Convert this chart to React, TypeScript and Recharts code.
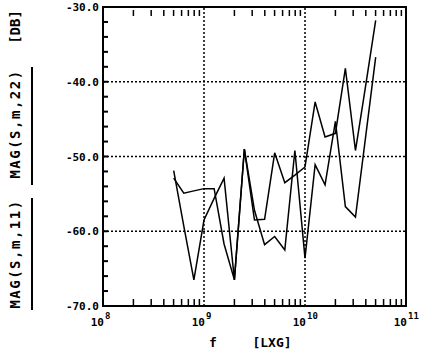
import { LineChart, Line, XAxis, YAxis, ReferenceLine, ReferenceArea } from "recharts";

// frequency points, Hz (0.1 decade steps)
const freqHz = [
  5.01e8, 6.31e8, 7.94e8, 1.0e9, 1.26e9, 1.58e9, 2.0e9, 2.51e9, 3.16e9, 3.98e9, 5.01e9,
  6.31e9, 7.94e9, 1.0e10, 1.26e10, 1.58e10, 2.0e10, 2.51e10, 3.16e10, 3.98e10, 5.01e10,
];
const magS11 = [
  -52.9, -54.9, -54.6, -54.3, -54.3, -61.7, -66.5, -49.0, -58.5, -58.4, -49.5,
  -53.5, -52.5, -51.4, -42.7, -47.4, -46.9, -38.2, -49.2, -40.6, -31.8,
];
const magS22 = [
  -51.9, -59.3, -66.5, -58.5, -55.6, -52.9, -66.5, -49.0, -57.2, -61.8, -60.7,
  -62.5, -49.2, -63.6, -51.1, -53.8, -45.3, -56.7, -58.1, -47.4, -36.7,
];

const decadeTicks = [1e8, 1e9, 1e10, 1e11];
const decadeExp = ["8", "9", "10", "11"];
const xTicks = [
  1e8, 2e8, 3e8, 4e8, 5e8, 6e8, 7e8, 8e8, 9e8,
  1e9, 2e9, 3e9, 4e9, 5e9, 6e9, 7e9, 8e9, 9e9,
  1e10, 2e10, 3e10, 4e10, 5e10, 6e10, 7e10, 8e10, 9e10, 1e11,
];
const yTicks = [-70, -68, -66, -64, -62, -60, -58, -56, -54, -52, -50, -48, -46, -44, -42, -40, -38, -36, -34, -32, -30];
const yLabels = [-70, -60, -50, -40, -30];
const gridX = [1e9, 1e10];
const gridY = [-60, -50, -40];

const data = freqHz.map((f, i) => ({ f, s11: magS11[i], s22: magS22[i] }));

const font = "'DejaVu Sans Mono', monospace";

function BottomTick(props: any) {
  const { x, y, payload } = props;
  const v = payload.value;
  const k = decadeTicks.indexOf(v);
  if (k < 0) return <line x1={x} x2={x} y1={y} y2={y - 7} stroke="#000" strokeWidth={1.5} />;
  return (
    <g fontFamily={font} fontWeight="bold" fill="#000">
      <text x={x + 1} y={y + 20} textAnchor="end" fontSize={11}>10</text>
      <text x={x + 2} y={y + 13} textAnchor="start" fontSize={9}>{decadeExp[k]}</text>
    </g>
  );
}

function TopTick(props: any) {
  const { x, y, payload } = props;
  if (decadeTicks.indexOf(payload.value) >= 0) return <g />;
  return <line x1={x} x2={x} y1={y + 3} y2={y + 9} stroke="#000" strokeWidth={1.5} />;
}

// labels on the left; minor tick marks drawn inward from the border
function LeftTick(props: any) {
  const { x, y, payload } = props;
  const v = payload.value;
  return (
    <g>
      <rect x={x} y={y - 1} width={5} height={2} fill="#000" />
      {yLabels.includes(v) && (
        <text x={x - 4} y={y + 4} textAnchor="end" fontFamily={font} fontWeight="bold" fontSize={11} fill="#000">
          {v.toFixed(1)}
        </text>
      )}
    </g>
  );
}

export default function App() {
  return (
    <div style={{ position: "fixed", left: 0, top: 0, width: 422, height: 356, background: "#fff" }}>
      <svg width={422} height={356} style={{ position: "absolute", left: 0, top: 0, pointerEvents: "none" }}>
        <g fontFamily={font} fontWeight="bold" fontSize={14} fill="#000">
          <text transform="translate(20,27) rotate(-90)" textAnchor="middle">[DB]</text>
          <text transform="translate(20,124) rotate(-90)" textAnchor="middle" letterSpacing={1.5}>MAG(S,m,22)</text>
          <text transform="translate(20,254) rotate(-90)" textAnchor="middle" letterSpacing={1.5}>MAG(S,m,11)</text>
          <text x={213} y={347} textAnchor="middle" fontSize={13}>f</text>
          <text x={272} y={347} textAnchor="middle" fontSize={13}>[LXG]</text>
        </g>
        <line x1={32} x2={32} y1={67} y2={185} stroke="#000" strokeWidth={2} />
        <line x1={32} x2={32} y1={198} y2={310} stroke="#000" strokeWidth={2} />
      </svg>
      <div style={{ position: "absolute", left: 0, top: 0 }}>
        <LineChart width={422} height={356} data={data} margin={{ top: 0, right: 16, bottom: 0, left: 0 }}>
          <XAxis
            xAxisId="f"
            dataKey="f"
            type="number"
            scale="log"
            domain={[1e8, 1e11]}
            ticks={xTicks}
            interval={0}
            height={50}
            tickSize={0}
            tickMargin={0}
            axisLine={false}
            tick={<BottomTick />}
          />
          <XAxis
            xAxisId="top"
            dataKey="f"
            type="number"
            scale="log"
            orientation="top"
            domain={[1e8, 1e11]}
            ticks={xTicks}
            interval={0}
            height={7}
            tickSize={0}
            tickMargin={0}
            axisLine={false}
            tick={<TopTick />}
          />
          <YAxis
            type="number"
            domain={[-70, -30]}
            ticks={yTicks}
            interval={0}
            width={103}
            tickSize={0}
            tickMargin={0}
            axisLine={false}
            tick={<LeftTick />}
          />
          {gridX.map((g) => (
            <ReferenceLine key={g} xAxisId="f" x={g} stroke="#000" strokeWidth={1.5} strokeDasharray="2 2" />
          ))}
          {gridY.map((g) => (
            <ReferenceLine key={g} xAxisId="f" y={g} stroke="#000" strokeWidth={1.5} strokeDasharray="2 2" />
          ))}
          <ReferenceArea
            xAxisId="f"
            x1={1e8}
            x2={1e11}
            y1={-70}
            y2={-30}
            fill="none"
            fillOpacity={0}
            stroke="#000"
            strokeWidth={2}
            ifOverflow="visible"
          />
          <Line xAxisId="f" dataKey="s11" stroke="#000" strokeWidth={1.5} dot={false} isAnimationActive={false} />
          <Line xAxisId="f" dataKey="s22" stroke="#000" strokeWidth={1.5} dot={false} isAnimationActive={false} />
        </LineChart>
      </div>
    </div>
  );
}
